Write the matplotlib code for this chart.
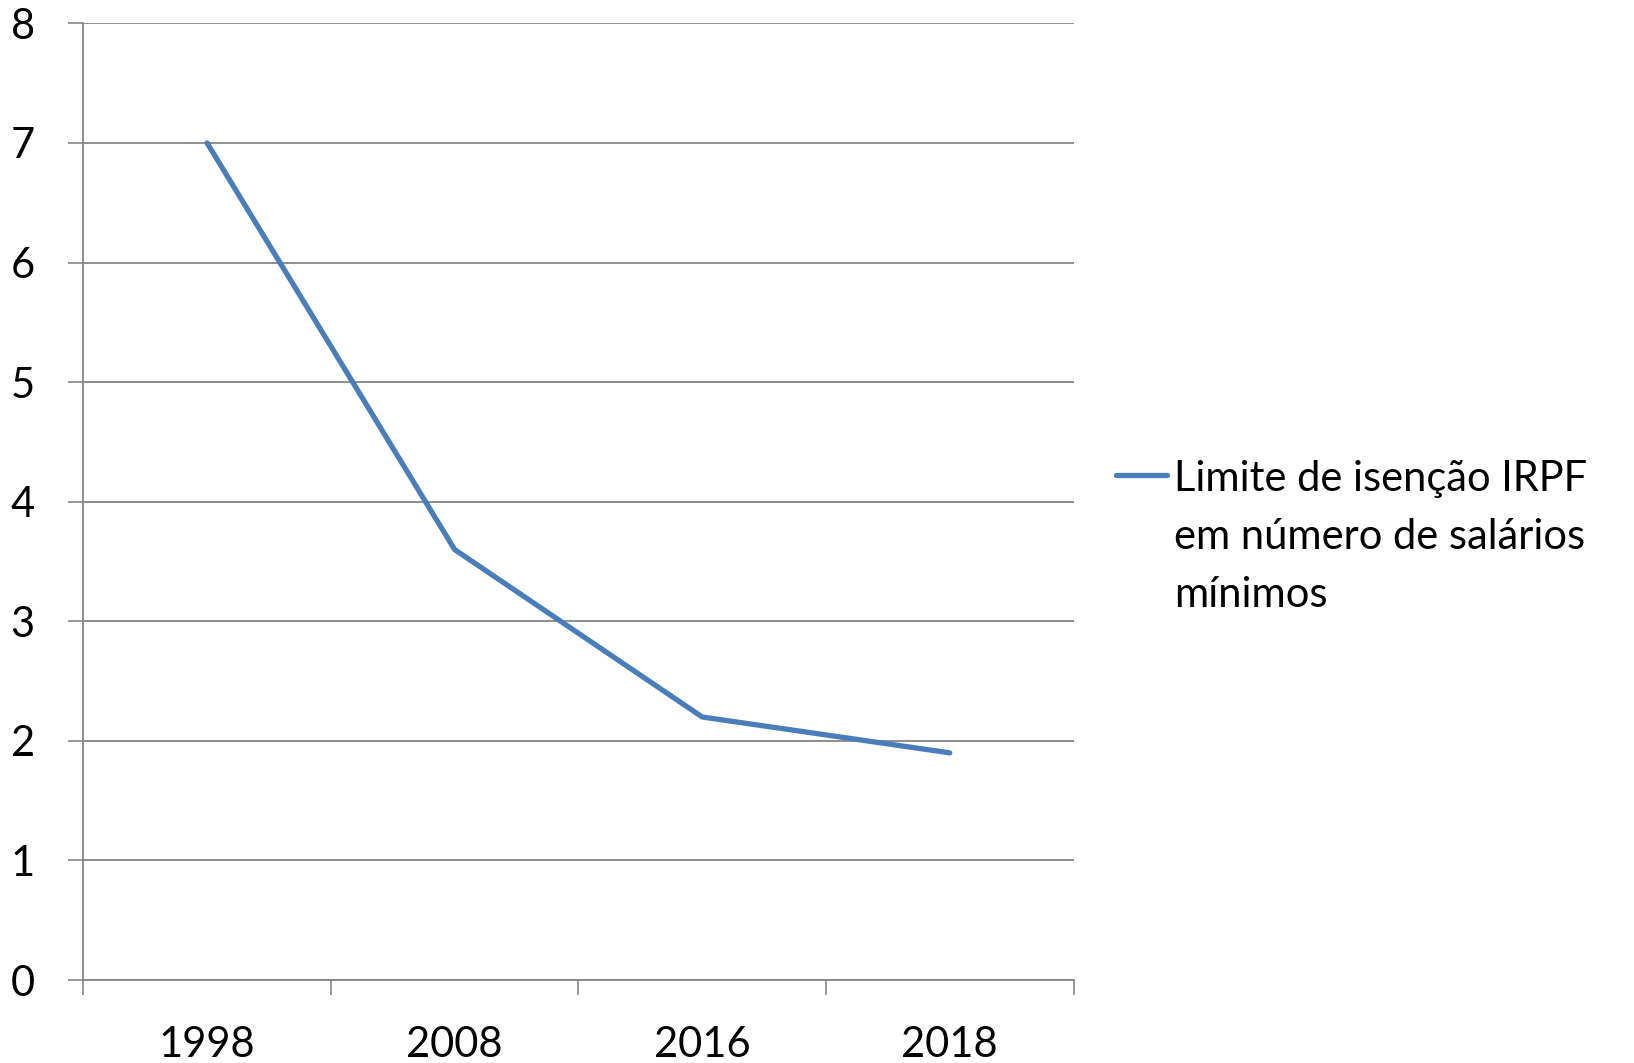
import matplotlib
matplotlib.use("Agg")
import matplotlib.pyplot as plt
from matplotlib.lines import Line2D

plt.rcParams['font.family'] = ['Lato', 'DejaVu Sans']

years = ["1998", "2008", "2016", "2018"]
limite_sm = [7.0, 3.6, 2.2, 1.9]
series_label = ["Limite de isenção IRPF", "em número de salários", "mínimos"]
y_ticks = [0, 1, 2, 3, 4, 5, 6, 7, 8]

line_color = "#4a7ebb"
grid_color = "#868686"

fig = plt.figure(figsize=(16.34, 10.63), dpi=100)
ax = fig.add_axes([0.051, 0.078, 0.606, 0.9])

x = list(range(len(years)))
ax.plot(x, limite_sm, color=line_color, linewidth=3.8, solid_capstyle='round',
        solid_joinstyle='round', zorder=3)

ax.set_xlim(-0.5, len(years) - 0.5)
ax.set_ylim(0, 8)
ax.set_yticks(y_ticks)
ax.set_yticklabels([str(v) for v in y_ticks])
ax.yaxis.grid(True, color=grid_color, linewidth=1.3)
ax.set_axisbelow(True)

# category labels at bin centres, tick marks at bin boundaries
ax.set_xticks(x)
ax.set_xticklabels(years)
ax.set_xticks([i - 0.5 for i in range(len(years) + 1)], minor=True)
ax.tick_params(axis='x', which='major', length=0, pad=33, labelsize=30)
ax.tick_params(axis='x', which='minor', length=11, width=1.2, color=grid_color)
ax.tick_params(axis='y', which='major', length=11, width=1.2, color=grid_color,
               pad=24, labelsize=30)

for side in ['top', 'right']:
    ax.spines[side].set_visible(False)
for side in ['left', 'bottom']:
    ax.spines[side].set_color(grid_color)
    ax.spines[side].set_linewidth(1.3)

# legend entry drawn to the right of the plot area
fig.add_artist(Line2D([0.683, 0.714], [0.553, 0.553], transform=fig.transFigure,
                      color=line_color, linewidth=3.8, solid_capstyle='round'))
baselines = [0.538, 0.4835, 0.429]
for text, yb in zip(series_label, baselines):
    fig.text(0.7185, yb, text, fontsize=30, va='baseline', ha='left',
             transform=fig.transFigure)

fig.savefig("out.png", dpi=100, facecolor='white')
